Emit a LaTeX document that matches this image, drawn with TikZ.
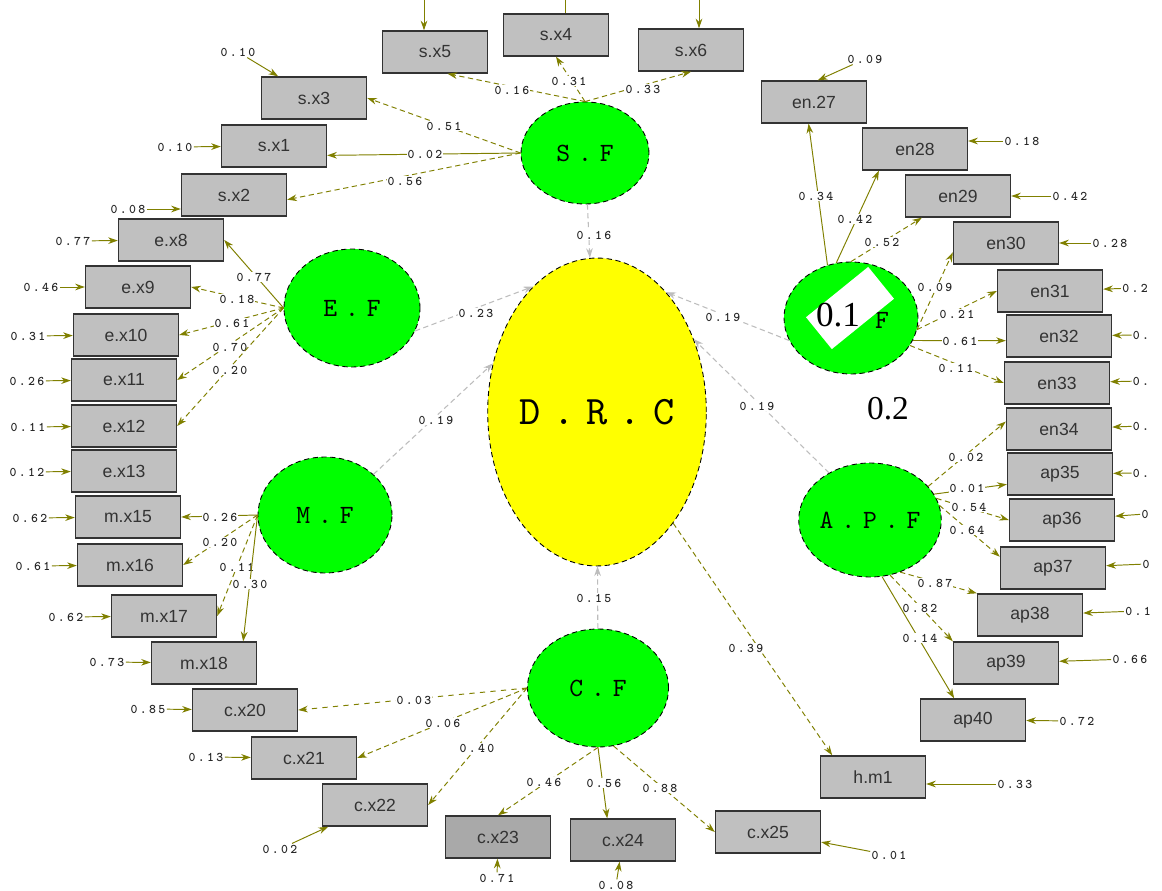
\documentclass[tikz,border=0pt]{standalone}
\usepackage{fontspec}
\setsansfont{Liberation Sans}
\newfontfamily\ovlfont{Liberation Serif}
\newfontfamily\latmono{lmmono10-regular.otf}[LetterSpace=30]
\newfontfamily\valmono{lmmonolt10-bold.otf}[LetterSpace=18]
\usepackage{tikz}
\usetikzlibrary{shapes,arrows.meta}

\definecolor{silver}{HTML}{C0C0C0}
\definecolor{latgreen}{HTML}{00FF00}
\definecolor{drcyellow}{HTML}{FFFF00}
\definecolor{loadolive}{HTML}{808000}
\definecolor{pathgray}{HTML}{BDBDBD}

\newcommand{\valfont}{\valmono\fontsize{7.5}{7.5}\selectfont}
\newcommand{\latfont}{\latmono\fontsize{15}{15}\selectfont}

\begin{document}
\begin{tikzpicture}[
    x=0.02cm, y=-0.02cm,
    obs/.style={rectangle, draw=black!80, line width=0.8pt, fill=silver, minimum width=2.1cm, minimum height=0.84cm, inner sep=0pt, font=\sffamily\fontsize{10}{10}\selectfont, text=black!80},
    lat/.style={ellipse, draw=black, densely dashed, line width=0.5pt, fill=latgreen, inner sep=0pt, font=\latfont},
    val/.style={font=\valfont, text=black!85, fill=white, inner sep=0.6pt},
    load/.style={draw=loadolive, line width=0.55pt, -{Stealth[length=5.5pt,width=3.8pt]}},
    err/.style={load},
    struct/.style={draw=pathgray, line width=0.6pt, densely dashed, -{Stealth[length=5.5pt,width=3.8pt]}},
]
\fill[white] (0,0) rectangle (1162,891);
\useasboundingbox (0,0) rectangle (1162,891);

% latent factors
\node[lat, fill=drcyellow, minimum width=4.22cm, minimum height=6.16cm, font=\latmono\fontsize{23}{23}\selectfont] (DRC) at (597,412) {D.R.C};
\node[lat, minimum width=2.56cm, minimum height=2.04cm] (SF) at (585,153) {S.F};
\node[lat, minimum width=2.72cm, minimum height=2.36cm] (EF) at (352,308) {E.F};
\node[lat, minimum width=2.68cm, minimum height=2.32cm] (MF) at (325,515) {M.F};
\node[lat, minimum width=2.82cm, minimum height=2.36cm] (CF) at (598,688) {C.F};
\node[lat, minimum width=2.70cm, minimum height=2.28cm] (APF) at (870,520) {A.P.F};
\node[lat, minimum width=2.68cm, minimum height=2.24cm] (ENF) at (851,318) {};
\node[font=\latfont] (ENFlab) at (882,320) {F};

% observed items
\foreach \nm/\px/\py/\txt in {
    sx5/435/52/s.x5, sx4/556/35/s.x4, sx6/691/50/s.x6, sx3/314/98/s.x3, sx1/274/146/s.x1, sx2/234/195/s.x2,
    ex8/171/240/e.x8, ex9/138/287/e.x9, ex10/126/335/e.x10, ex11/124/380/e.x11, ex12/124/426/e.x12, ex13/124/471/e.x13,
    mx15/128/517/m.x15, mx16/130/565/m.x16, mx17/164/616/m.x17, mx18/204/663/m.x18,
    cx20/245/710/c.x20, cx21/304/758/c.x21, cx22/375/805/c.x22, cx25/768/832/c.x25, hm1/873/777/h.m1,
    en27/814/102/en.27, en28/915/149/en28, en29/958/196/en29, en30/1006/243/en30, en31/1050/291/en31,
    en32/1059/336/en32, en33/1057/383/en33, en34/1059/429/en34,
    ap35/1060/474/ap35, ap36/1062/520/ap36, ap37/1053/568/ap37, ap38/1030/615/ap38, ap39/1006/663/ap39, ap40/973/720/ap40}
  \node[obs] (\nm) at (\px,\py) {\txt};
\node[obs, fill=silver!88!black] (cx23) at (498,837) {c.x23};
\node[obs, fill=silver!88!black] (cx24) at (623,840) {c.x24};

% error terms
\foreach \nm/\px/\py/\txt/\tg in {
    e3/238/52/0.10/sx3, e1/175/147/0.10/sx1, e8/73/241/0.77/ex8, e9/41/287/0.46/ex9, e10/28/336/0.31/ex10,
    e11/27/381/0.26/ex11, e12/28/427/0.11/ex12, e13/27/472/0.12/ex13, e15/30/518/0.62/mx15, e16/33/566/0.61/mx16,
    e17/66/617/0.62/mx17, e18/107/662/0.73/mx18, e20/148/709/0.85/cx20, e21/206/757/0.13/cx21, e22/280/849/0.02/cx22,
    e23/497/878/0.71/cx23, e24/616/885/0.08/cx24, e25/889/855/0.01/cx25, e40/1077/721/0.72/ap40, e39/1130/659/0.66/ap39,
    e38/1138/611/0.1/ap38, e37/1146/564/0/ap37, e36/1145/514/0/ap36, e35/1141/473/0./ap35, e34/1141/426/0./en34,
    e33/1141/381/0./en33, e32/1141/335/0./en32, e31/1135/288/0.2/en31, e30/1110/243/0.28/en30, e29/1070/196/0.42/en29}
  {\node[val] (\nm) at (\px,\py) {\txt};
   \draw[err] (\nm) -- (\tg);}
\node[val] (e2) at (128,209) {0.08};
\draw[err] (e2) -- (e2 -| sx2.west);
\node[val] (e28) at (1022,141) {0.18};
\draw[err] (e28) -- (e28 -| en28.east);
\node[val] (e27) at (865,59) {0.09};
\draw[err] (e27) -- (en27.80);
\node[val] (ehm) at (1015,784) {0.33};
\draw[err] (ehm) -- (ehm -| hm1.east);
\coordinate (t5) at (424,0);
\coordinate (t4) at (565,0);
\coordinate (t6) at (699,0);
\draw[err] (t5) -- (t5 |- sx5.north);
\draw[draw=loadolive, line width=0.55pt] (t4) -- (t4 |- sx4.north);
\draw[err] (t6) -- (t6 |- sx6.north);

% loadings
\foreach \src/\tg/\lx/\ly/\v/\sty in {
    SF.north/sx5.-60/512/90/0.16/densely dashed, SF.north/sx4.south/569/81/0.31/densely dashed,
    SF.north/sx6.south/643/89/0.33/densely dashed, SF.west/sx3.east/444/126/0.51/densely dashed,
    SF.west/sx1.-10/425/154/0.02/solid, SF.west/sx2.-5/405/181/0.56/densely dashed,
    EF.west/ex8.east/254/277/0.77/solid, EF.west/ex9.east/237/299/0.18/densely dashed,
    EF.west/ex10.east/232/323/0.61/densely dashed, EF.west/ex11.east/230/347/0.70/densely dashed,
    EF.west/ex12.east/230/370/0.20/densely dashed,
    MF.west/mx15.east/220/517/0.26/solid, MF.west/mx16.east/220/542/0.20/densely dashed,
    MF.west/mx17.east/237/567/0.11/densely dashed, MF.west/mx18.29/250/584/0.30/solid,
    CF.west/cx20.east/414/700/0.03/dashed, CF.west/cx21.east/443/723/0.06/densely dashed,
    CF.west/cx22.east/477/748/0.40/densely dashed, CF.south/cx23.north/544/782/0.46/densely dashed,
    CF.south/cx24.126/604/783/0.56/solid, CF.-75/cx25.west/660/788/0.88/densely dashed,
    DRC/hm1.152/746/648/0.39/densely dashed,
    ENF.114/en27.-104/816/196/0.34/solid, ENF.105/en28.-149/855/219/0.42/solid,
    ENF.north/en29.-149/882/242/0.52/densely dashed, ENF.-10/en30.190/935/287/0.09/densely dashed,
    ENF.-10/en31.west/957/314/0.21/densely dashed, ENF.-20/en32.185/960/341/0.61/solid,
    ENF.-25/en33.west/956/368/0.11/densely dashed,
    APF.30/en34.172/966/457/0.02/densely dashed, APF.22/ap35.191/967/488/0.01/solid,
    APF.18/ap36.west/969/507/0.54/densely dashed, APF.12/ap37.168/967/530/0.64/densely dashed,
    APF.-60/ap38.north west/935/583/0.87/densely dashed, APF.-70/ap39.north west/920/608/0.82/densely dashed,
    APF.-78/ap40.131/920/638/0.14/solid}
  {\draw[load, \sty] (\src) -- (\tg);
   \node[val] at (\lx,\ly) {\v};}

% paths to D.R.C
\draw[struct] (SF) -- (DRC);
\draw[struct] (EF.-20) -- (DRC.117);
\draw[struct] (MF.40) -- (DRC.155);
\draw[struct] (ENF.200) -- (DRC.60);
\draw[struct] (APF.131) -- (DRC.37);
\draw[struct] (CF) -- (DRC);
\node[val] (pSF) at (594,235) {0.16};
\node[val] (pEF) at (476,313) {0.23};
\node[val] (pMF) at (436,420) {0.19};
\node[val] (pENF) at (723,317) {0.19};
\node[val] (pAPF) at (757,406) {0.19};
\node[val] (pCF) at (594,598) {0.15};

% pasted marks over the figure
\node[fill=white, rotate=39, minimum width=1.6cm, minimum height=0.82cm, inner sep=0pt] (ovbox) at (850,308) {};
\node[font=\ovlfont\fontsize{20}{20}\selectfont, inner sep=0pt] (ov1) at (838,315) {0.1};
\node[font=\ovlfont\fontsize{19}{19}\selectfont, inner sep=0pt] (ov2) at (888,409) {0.2};

\end{tikzpicture}
\end{document}
